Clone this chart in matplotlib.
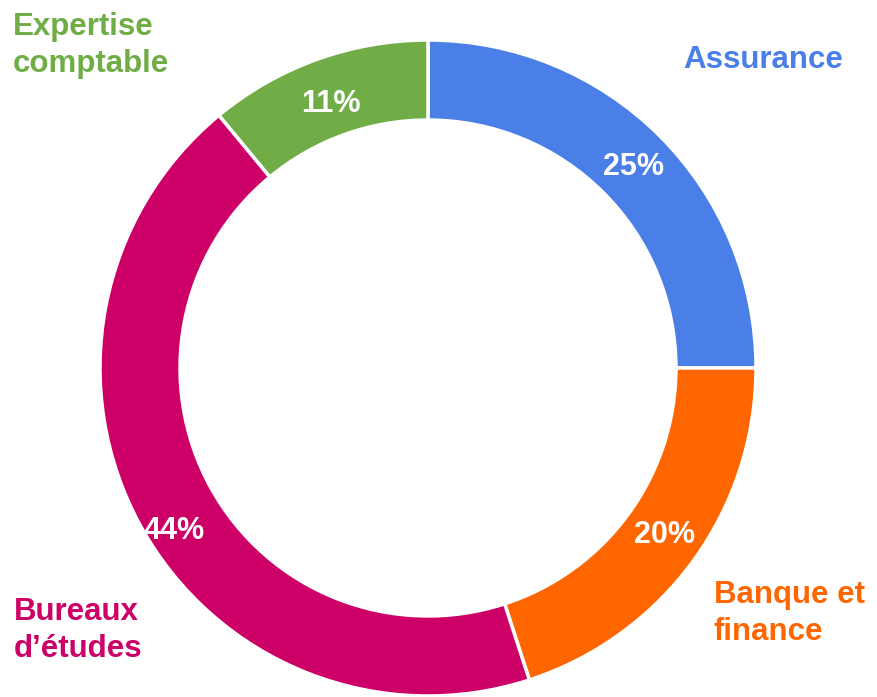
import matplotlib
matplotlib.use("Agg")
import matplotlib.pyplot as plt

categories = ["Assurance", "Banque et\nfinance", "Bureaux\nd\u2019\u00e9tudes", "Expertise\ncomptable"]
values = [25, 20, 44, 11]
colors = ["#4A7FE8", "#FF6600", "#CC0066", "#70AD47"]

W, H = 877, 697
fig = plt.figure(figsize=(W / 100, H / 100), dpi=100)
ax = fig.add_axes([0, 0, 1, 1])

cx, cy, R = 428, 368, 328  # pixel center & outer radius
ax.set_xlim(-cx / R, (W - cx) / R)
ax.set_ylim(-(H - cy) / R, cy / R)
ax.set_aspect("equal")
ax.axis("off")

wedges, texts, autotexts = ax.pie(
    values,
    startangle=90,
    counterclock=False,
    colors=colors,
    radius=1.0,
    wedgeprops=dict(width=0.244, edgecolor="white", linewidth=2.5),
    autopct=lambda p: f"{round(p)}%",
    pctdistance=0.878,
    textprops=dict(color="white", fontsize=22, fontweight="bold", family="Liberation Sans"),
)
ax.set_xlim(-cx / R, (W - cx) / R)
ax.set_ylim(-(H - cy) / R, cy / R)

# small manual nudges of percentage labels (pixels: right, down)
nudges = [(2, 3), (4, -2), (-2, 24), (0, 7)]
for t, (dx, dy) in zip(autotexts, nudges):
    x, y = t.get_position()
    t.set_position((x + dx / R, y - dy / R))

# outside labels (pixel positions: left x, last-line baseline y)
label_pos = [(683, 68), (714, 640), (14, 657), (13, 72)]
for lab, col, (px, py) in zip(categories, colors, label_pos):
    fig.text(px / W, 1 - py / H, lab, color=col, fontsize=22.5, fontweight="bold",
             family="Liberation Sans", ha="left", va="baseline", linespacing=1.32)

fig.savefig("out.png", dpi=100)
